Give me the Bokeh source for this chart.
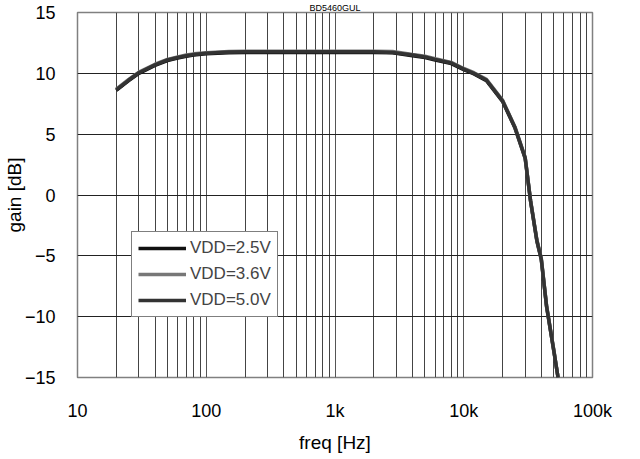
from bokeh.plotting import figure
from bokeh.models import FixedTicker, Legend, LegendItem
from bokeh.embed import file_html
from bokeh.resources import INLINE

# ---- data ----
freq = [20, 25, 30, 40, 50, 60, 70, 80, 100, 150, 200, 300, 500, 1000, 2000, 2800,
        4000, 5000, 6000, 8000, 10000, 12000, 15000, 20000, 25000, 30000, 33000,
        37000, 40000, 44000, 50000, 54000]
gain_25 = [8.6, 9.4, 10.0, 10.65, 11.05, 11.25, 11.4, 11.5, 11.6, 11.7, 11.72, 11.72, 11.72,
           11.72, 11.72, 11.7, 11.45, 11.3, 11.1, 10.8, 10.3, 9.95, 9.4, 7.7, 5.5, 3.0,
           -0.5, -3.8, -5.3, -9.2, -12.8, -15.0]
gain_36 = [8.7, 9.5, 10.1, 10.75, 11.15, 11.35, 11.5, 11.6, 11.7, 11.8, 11.82, 11.82, 11.82,
           11.82, 11.82, 11.8, 11.55, 11.4, 11.2, 10.9, 10.4, 10.05, 9.5, 7.8, 5.6, 3.1,
           -0.4, -3.7, -5.2, -9.1, -12.7, -15.0]
gain_50 = [8.65, 9.45, 10.05, 10.7, 11.1, 11.3, 11.45, 11.55, 11.65, 11.75, 11.77, 11.77, 11.77,
           11.77, 11.77, 11.72, 11.5, 11.35, 11.15, 10.85, 10.35, 10.0, 9.45, 7.75, 5.55, 3.05,
           -0.45, -3.75, -5.25, -9.15, -12.75, -15.0]
series_names = ["VDD=2.5V", "VDD=3.6V", "VDD=5.0V"]
x_ticks = [10, 100, 1000, 10000, 100000]
x_tick_labels = ["10", "100", "1k", "10k", "100k"]
x_minor = [m * d for d in (10, 100, 1000, 10000) for m in range(2, 10)]
y_ticks = [-15, -10, -5, 0, 5, 10, 15]
y_tick_labels = ["\u221215", "\u221210", "\u22125", "0", "5", "10", "15"]
title_text = "BD5460GUL"

FONT = "Liberation Sans"

p = figure(width=624, height=455, x_axis_type="log", x_range=(10, 100000), y_range=(-15, 15),
           output_backend="svg", toolbar_location=None, title=title_text,
           min_border_left=65, min_border_right=32, min_border_top=10, min_border_bottom=77)

p.title.align = "center"
p.title.text_font = FONT
p.title.text_font_size = "9px"
p.title.text_font_style = "normal"
p.title.text_color = "black"
p.title.standoff = 0
p.title.offset = 0
p.title.text_line_height = 1.0

p.outline_line_color = "#808080"
p.outline_line_width = 1.5

p.xaxis.ticker = FixedTicker(ticks=x_ticks, minor_ticks=x_minor)
p.xaxis.major_label_overrides = {t: l for t, l in zip(x_ticks, x_tick_labels)}
p.yaxis.ticker = FixedTicker(ticks=y_ticks)
p.yaxis.major_label_overrides = {t: l for t, l in zip(y_ticks, y_tick_labels)}

for ax in (p.xaxis, p.yaxis):
    ax.axis_line_color = None
    ax.major_tick_line_color = None
    ax.minor_tick_line_color = None
    ax.major_label_text_font = FONT
    ax.major_label_text_font_size = "18px"
    ax.major_label_text_color = "black"
    ax.axis_label_text_font = FONT
    ax.axis_label_text_font_size = "19px"
    ax.axis_label_text_font_style = "normal"
    ax.axis_label_text_color = "black"

p.xaxis.axis_label = "freq [Hz]"
p.yaxis.axis_label = "gain [dB]"
p.xaxis.major_label_standoff = 17
p.xaxis.axis_label_standoff = 8
p.yaxis.major_label_standoff = 16
p.yaxis.axis_label_standoff = -3

p.xgrid.grid_line_color = "#555555"
p.xgrid.grid_line_width = 1
p.xgrid.minor_grid_line_color = "#444444"
p.xgrid.minor_grid_line_width = 1
p.ygrid.grid_line_color = "#222222"
p.ygrid.grid_line_width = 1

r1 = p.line(freq, gain_25, line_color="#111111", line_width=3.5)
r2 = p.line(freq, gain_36, line_color="#777777", line_width=3.5)
r3 = p.line(freq, gain_50, line_color="#333333", line_width=3.5)

legend = Legend(items=[LegendItem(label=series_names[0], renderers=[r1]),
                       LegendItem(label=series_names[1], renderers=[r2]),
                       LegendItem(label=series_names[2], renderers=[r3])],
                location=(54, 60))
legend.border_line_color = "black"
legend.border_line_width = 1
legend.background_fill_color = "white"
legend.background_fill_alpha = 1
legend.label_text_font = FONT
legend.label_text_font_size = "17px"
legend.glyph_width = 48
legend.glyph_height = 20
legend.label_height = 20
legend.label_standoff = 4
legend.padding = 6
legend.spacing = 6
legend.margin = 0
p.add_layout(legend, "center")

open("out.html", "w").write(file_html(p, INLINE))
